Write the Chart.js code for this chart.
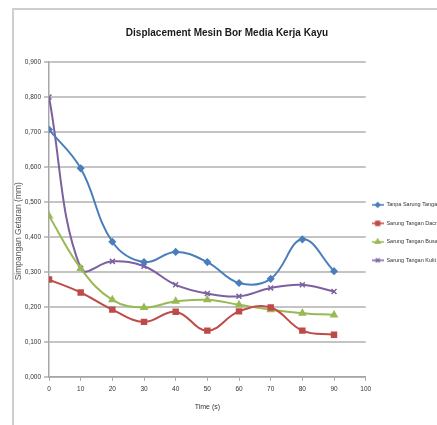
<!DOCTYPE html>
<html>
<head>
<meta charset="utf-8">
<script src="https://cdn.jsdelivr.net/npm/chart.js@4.4.0/dist/chart.umd.min.js"></script>
<style>
    html, body { margin: 0; padding: 0; background: #fff; }
    #wrap { position: relative; width: 437px; height: 425px; overflow: hidden; }
    #frame {
        position: absolute; left: 12px; top: 8px; right: 0; bottom: 0;
        border-top: 2px solid #cfcfcf; border-left: 2px solid #cfcfcf;
    }
    canvas { position: absolute; left: 0; top: 0; }
</style>
</head>
<body>
<div id="wrap">
    <div id="frame"></div>
    <canvas id="displacementChart" width="437" height="425"></canvas>
</div>
<script>
// Data
const timeSec = [0, 10, 20, 30, 40, 50, 60, 70, 80, 90];
const tanpaSarung = [0.707, 0.596, 0.386, 0.328, 0.357, 0.328, 0.268, 0.280, 0.393, 0.302];
const sarungDacron = [0.278, 0.241, 0.192, 0.157, 0.186, 0.132, 0.187, 0.198, 0.132, 0.120];
const sarungBusa = [0.460, 0.310, 0.220, 0.198, 0.216, 0.220, 0.206, 0.192, 0.182, 0.177];
const sarungKulit = [0.800, 0.310, 0.330, 0.316, 0.263, 0.238, 0.230, 0.254, 0.263, 0.244];
const seriesNames = ['Tanpa Sarung Tangan', 'Sarung Tangan Dacron', 'Sarung Tangan Busa', 'Sarung Tangan Kulit'];

const plainFont = '"Liberation Sans", sans-serif';

// Small line + marker icon for the legend, like the Excel legend
function legendIcon(color, style, radius) {
    const c = document.createElement('canvas');
    c.width = 12;
    c.height = 8;
    const g = c.getContext('2d');
    g.strokeStyle = color;
    g.fillStyle = color;
    g.lineWidth = 1.5;
    g.beginPath();
    g.moveTo(0, 4);
    g.lineTo(12, 4);
    g.stroke();
    Chart.helpers.drawPoint(g, { pointStyle: style, radius: radius, borderWidth: 1, rotation: 0 }, 6, 4);
    return c;
}

function makeSeries(label, values, color, style, radius) {
    return {
        label: label,
        data: timeSec.map((t, i) => ({ x: t, y: values[i] })),
        borderColor: color,
        backgroundColor: color,
        borderWidth: 2,
        tension: 0.4,
        pointStyle: style,
        pointRadius: radius,
        pointBorderWidth: 1.5,
        legendIcon: legendIcon(color, style, radius - 0.8)
    };
}

// Nudge title and legend sideways (Excel places them a bit off centre)
const nudgeBlocks = {
    id: 'nudgeBlocks',
    afterLayout(chart) {
        if (chart.titleBlock) {
            chart.titleBlock.left -= 10;
            chart.titleBlock.right -= 10;
        }
        if (chart.legend) {
            chart.legend.left -= 7;
            chart.legend.right -= 7;
        }
    }
};

const ctx = document.getElementById('displacementChart').getContext('2d');
const displacementChart = new Chart(ctx, {
    type: 'line',
    data: {
        datasets: [
            makeSeries(seriesNames[0], tanpaSarung, '#4a7ebb', 'rectRot', 3),
            makeSeries(seriesNames[1], sarungDacron, '#be4b48', 'rect', 3.5),
            makeSeries(seriesNames[2], sarungBusa, '#98b954', 'triangle', 3.5),
            makeSeries(seriesNames[3], sarungKulit, '#7d60a0', 'crossRot', 3.5)
        ]
    },
    plugins: [nudgeBlocks],
    options: {
        responsive: false,
        animation: false,
        devicePixelRatio: 1,
        layout: {
            padding: { left: 14, right: -23, top: 0, bottom: 14 }
        },
        plugins: {
            title: {
                display: true,
                text: 'Displacement Mesin Bor Media Kerja Kayu',
                color: '#1a1a1a',
                font: { family: plainFont, size: 10, weight: 'bold' },
                padding: { top: 27, bottom: 23 }
            },
            legend: {
                position: 'right',
                title: {
                    // empty title only to push the entries down as in the picture
                    display: true,
                    text: ' ',
                    font: { size: 6 },
                    padding: { top: 47, bottom: 0 }
                },
                labels: {
                    color: '#333',
                    font: { family: plainFont, size: 5.5 },
                    usePointStyle: true,
                    pointStyleWidth: 12,
                    boxHeight: 8,
                    padding: 13,
                    generateLabels: chart => {
                        const items = Chart.defaults.plugins.legend.labels.generateLabels(chart);
                        items.forEach(item => {
                            item.pointStyle = chart.data.datasets[item.datasetIndex].legendIcon;
                        });
                        return items;
                    }
                }
            },
            tooltip: { enabled: false }
        },
        scales: {
            x: {
                type: 'linear',
                min: 0,
                max: 100,
                ticks: {
                    stepSize: 10,
                    color: '#333',
                    padding: 5,
                    maxRotation: 0,
                    font: { family: plainFont, size: 6.5 }
                },
                grid: {
                    drawOnChartArea: false,
                    tickLength: 4,
                    color: '#a6a6a6'
                },
                border: { color: '#a6a6a6', width: 1.5 },
                title: {
                    display: true,
                    text: 'Time (s)',
                    color: '#333',
                    font: { family: plainFont, size: 7 },
                    padding: { top: 4, bottom: 0 }
                }
            },
            y: {
                min: 0,
                max: 0.9,
                ticks: {
                    stepSize: 0.1,
                    color: '#333',
                    padding: 3,
                    font: { family: plainFont, size: 6.5 },
                    callback: v => v.toFixed(3).replace('.', ',')
                },
                grid: {
                    color: '#c4c4c4',
                    lineWidth: 2,
                    tickLength: 5
                },
                border: { color: '#a6a6a6', width: 1.5 },
                title: {
                    display: true,
                    // trailing spaces move the visible words down a little
                    text: 'Simpangan Getaran (mm)          ',
                    color: '#555',
                    font: { family: plainFont, size: 8.5 },
                    padding: 0
                },
                afterFit: scale => { scale.width = 35; }
            }
        }
    }
});
</script>
</body>
</html>
